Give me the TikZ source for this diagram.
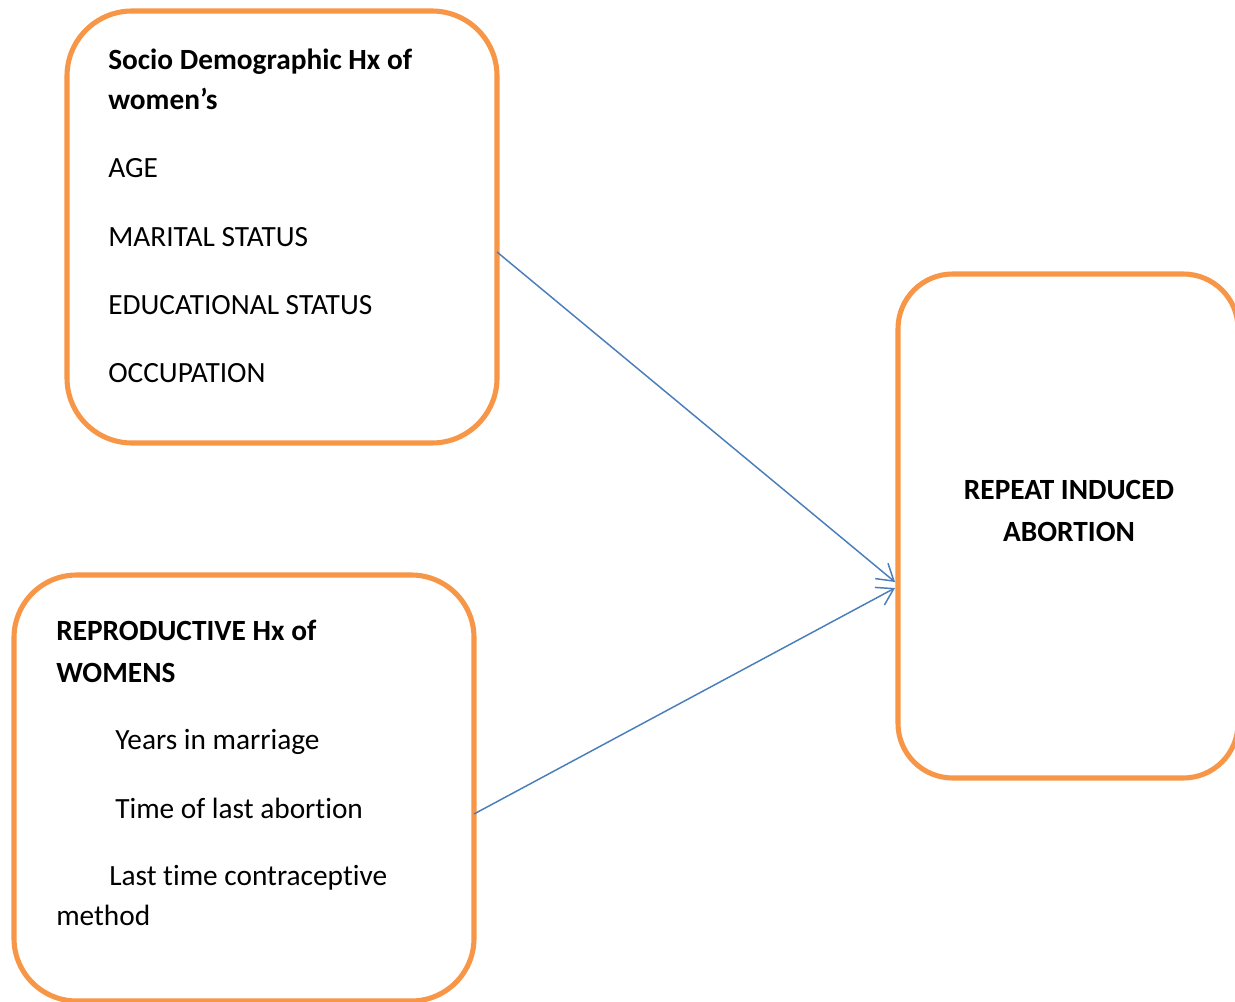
\documentclass[tikz,border=0pt]{standalone}
\usepackage{fontspec}
\setmainfont{Carlito}[Ligatures=NoCommon]
\usetikzlibrary{arrows.meta,calc}
\definecolor{boxorange}{HTML}{F79646}
\definecolor{arrowblue}{HTML}{4A7EBB}
\begin{document}
\begin{tikzpicture}[x=0.75pt,y=-0.75pt,
  box/.style={draw=boxorange,line width=3.8pt,rectangle,inner sep=0pt,outer sep=0pt},
  txt/.style={anchor=base west,inner sep=0pt,font=\fontsize{22pt}{26pt}\selectfont},
  btxt/.style={txt,font=\fontsize{22pt}{26pt}\selectfont\bfseries},
  conn/.style={draw=arrowblue,line width=1.1pt,-{Straight Barb[length=12pt,width=15pt,line width=1.1pt]}}]
\useasboundingbox (0,0) rectangle (1235,1002);
\clip (0,0) rectangle (1235,1002);
\fill[white] (0,0) rectangle (1235,1002);
% boxes
\node[box,rounded corners=48.75pt,minimum width=322.5pt,minimum height=324pt] (b1) at (282,227) {};
\node[box,rounded corners=47pt,minimum width=345pt,minimum height=319.5pt] (b2) at (244,788) {};
\node[box,rounded corners=41pt,minimum width=255pt,minimum height=378pt] (b3) at (1068,526) {};
% texts box 1
\node[btxt] (t11) at (108,70) {Socio Demographic Hx of};
\node[btxt] (t12) at (108,110) {women’s};
\node[txt] (t13) at (108,178) {AGE};
\node[txt] (t14) at (108,246) {MARITAL STATUS};
\node[txt] (t15) at (108,314) {EDUCATIONAL STATUS};
\node[txt] (t16) at (108,382) {OCCUPATION};
% texts box 2
\node[btxt] (t21) at (56,640) {REPRODUCTIVE Hx of};
\node[btxt] (t22) at (56,682) {WOMENS};
\node[txt] (t23) at (115,749) {Years in marriage};
\node[txt] (t24) at (115,818) {Time of last abortion};
\node[txt] (t25) at (109,885) {Last time contraceptive};
\node[txt] (t26) at (56,925) {method};
% text box 3
\node[btxt,anchor=base] (t31) at (1069,499) {REPEAT INDUCED};
\node[btxt,anchor=base] (t32) at (1069,541) {ABORTION};
% connectors
\coordinate (s1) at ($(b1.east)+(0,25)$);
\coordinate (s2) at ($(b2.east)+(0,26)$);
\coordinate (e1) at ($(b3.west)+(-3,56)$);
\coordinate (e2) at ($(b3.west)+(-3,62)$);
\draw[conn] (s1) -- (e1);
\draw[conn] (s2) -- (e2);
\end{tikzpicture}
\end{document}
